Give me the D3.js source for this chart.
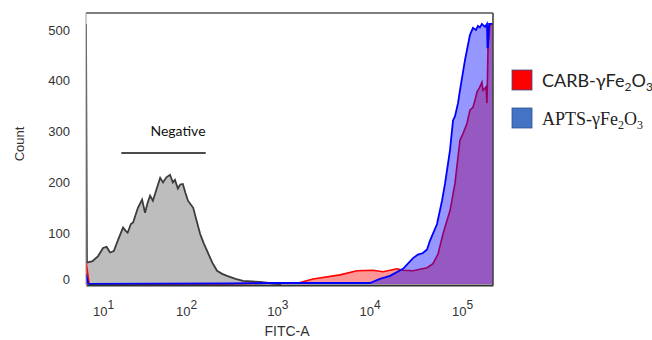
<!DOCTYPE html>
<html>
<head>
<meta charset="utf-8">
<script src="https://cdn.jsdelivr.net/npm/d3@7"></script>
<style>
  body { margin: 0; background: #fff; }
  svg { display: block; }
</style>
</head>
<body>
<div id="chart"></div>
<script>
///////////// data (FITC-A value, count) //////////////
var negative_data = [
  [5.5, 512], [5.7, 42], [7, 45], [8.5, 55], [10, 71], [11.2, 73], [12.5, 62], [14, 65],
  [16, 88], [18.4, 111], [20, 104], [21, 101], [23, 118], [24.5, 121], [28, 150], [31.4, 166],
  [33, 150], [34, 140], [36.5, 160], [39, 174], [42, 164], [46, 185], [51, 209], [55, 200],
  [60, 210], [66, 215], [71, 200], [75, 205], [81, 188], [86, 196], [92, 197], [98, 180],
  [105, 164], [120, 150], [132, 122], [143, 99], [157, 80], [171, 65], [195, 42], [220, 26],
  [250, 20], [283, 16], [350, 10], [423, 6], [648, 4], [900, 1], [1100, 0]
];
var carb_data = [
  [5.5, 45], [6.2, 0], [250, 0], [1068, 2], [1760, 3], [2436, 10], [4770, 18], [7300, 26],
  [10860, 27], [13930, 24], [19770, 30], [22970, 27], [29450, 26], [41790, 32], [48450, 40],
  [54960, 59], [62250, 99], [68730, 125], [74000, 144], [83790, 198], [94900, 283],
  [102360, 296], [113000, 316], [121650, 342], [131250, 348], [138090, 362], [145200, 378],
  [156000, 388], [164100, 397], [168300, 381], [181590, 388], [186240, 356], [191040, 466],
  [200400, 512], [216300, 512]
];
var apts_data = [
  [5.5, 20], [6, 0], [283, 1], [1068, 2], [10070, 2], [12900, 10], [16600, 16], [22970, 30],
  [29450, 51], [33360, 58], [37770, 61], [41790, 68], [44900, 85], [53590, 118], [60690, 164],
  [65340, 197], [74000, 263], [79830, 322], [83790, 330], [90390, 356], [94900, 381],
  [107670, 441], [121650, 490], [131250, 504], [141630, 500], [148650, 508], [156000, 505],
  [164100, 512], [177000, 506], [186240, 512], [188500, 466], [190500, 466], [195930, 512],
  [216300, 512]
];
var x_ticks = [10, 100, 1000, 10000, 100000];
var y_ticks = [0, 100, 200, 300, 400, 500];
var legend_labels = ['CARB-', 'APTS-'];

///////////// layout //////////////
const width = 652, height = 340;
const plot_left = 86, plot_right = 493, plot_top = 13, plot_bottom = 285;

var svg = d3.select('#chart').append('svg')
  .attr('width', width)
  .attr('height', height);

var x_scale = d3.scaleSymlog().constant(3)
  .domain([5.5, 216300])
  .range([plot_left, plot_right]);
var y_scale = d3.scaleLinear()
  .domain([0, 500])
  .range([284, 30]);

svg.append('clipPath').attr('id', 'plot_clip')
  .append('rect')
  .attr('x', plot_left).attr('y', plot_top)
  .attr('width', plot_right - plot_left).attr('height', plot_bottom - plot_top);

var area = d3.area()
  .x(d => x_scale(d[0]))
  .y0(y_scale(0))
  .y1(d => y_scale(d[1]));
var line = d3.line()
  .x(d => x_scale(d[0]))
  .y(d => y_scale(d[1]));

var plot = svg.append('g').attr('clip-path', 'url(#plot_clip)');

// negative control (grey)
plot.append('path').datum(negative_data)
  .attr('d', area)
  .attr('fill', '#bdbdbd');
plot.append('path').datum(negative_data)
  .attr('d', line)
  .attr('fill', 'none')
  .attr('stroke', '#3c3c3c')
  .attr('stroke-width', 1.8);

// CARB (red)
plot.append('path').datum(carb_data)
  .attr('d', area)
  .attr('fill', 'rgba(255,0,0,0.41)');
plot.append('path').datum(carb_data)
  .attr('d', line)
  .attr('fill', 'none')
  .attr('stroke', '#ff0000')
  .attr('stroke-width', 1.6);

// APTS (blue), drawn over red so overlap turns purple
plot.append('path').datum(apts_data)
  .attr('d', area)
  .attr('fill', 'rgba(0,0,255,0.41)');
plot.append('path').datum(apts_data)
  .attr('d', line)
  .attr('fill', 'none')
  .attr('stroke', '#0000ff')
  .attr('stroke-width', 1.8);

// frame
svg.append('line')
  .attr('x1', plot_left).attr('x2', plot_right).attr('y1', plot_top).attr('y2', plot_top)
  .attr('stroke', '#555').attr('stroke-width', 1.6);
svg.append('line')
  .attr('x1', plot_right).attr('x2', plot_right).attr('y1', plot_top).attr('y2', plot_bottom)
  .attr('stroke', '#444').attr('stroke-width', 1.6);
svg.append('line')
  .attr('x1', plot_left).attr('x2', plot_left).attr('y1', plot_top).attr('y2', plot_bottom)
  .attr('stroke', '#999').attr('stroke-width', 1);

// y axis
var y_axis = svg.append('g')
  .attr('transform', `translate(${plot_left},0)`)
  .call(d3.axisLeft(y_scale).tickValues(y_ticks).tickSize(0).tickPadding(16));
y_axis.select('.domain').remove();
y_axis.selectAll('text')
  .attr('font-family', 'Liberation Sans, Arial, sans-serif')
  .attr('font-size', 13)
  .attr('fill', '#333')
  .attr('dy', d => d === 0 ? '-0.05em' : '0.32em');

// x axis
var x_axis = svg.append('g')
  .attr('transform', `translate(0,${plot_bottom})`)
  .call(d3.axisBottom(x_scale).tickValues(x_ticks).tickSize(0).tickPadding(22).tickFormat(''));
x_axis.select('.domain')
  .attr('stroke', '#333').attr('stroke-width', 2);
x_axis.selectAll('.tick text')
  .attr('font-family', 'Liberation Sans, Arial, sans-serif')
  .attr('font-size', 13)
  .attr('fill', '#333')
  .each(function(d){
    var t = d3.select(this);
    t.append('tspan').text('10');
    t.append('tspan').attr('font-size', 12).attr('dy', '-0.6em').text(Math.round(Math.log10(d)));
  });

// axis titles
svg.append('text')
  .attr('transform', 'translate(24,144) rotate(-90)')
  .attr('text-anchor', 'middle')
  .attr('font-family', 'Liberation Sans, Arial, sans-serif')
  .attr('font-size', 13)
  .attr('fill', '#333')
  .text('Count');
svg.append('text')
  .attr('x', 287).attr('y', 336)
  .attr('text-anchor', 'middle')
  .attr('font-family', 'Liberation Sans, Arial, sans-serif')
  .attr('font-size', 14)
  .attr('fill', '#333')
  .text('FITC-A');

// negative gate marker
svg.append('line')
  .attr('x1', x_scale(17.5)).attr('x2', x_scale(165))
  .attr('y1', 153).attr('y2', 153)
  .attr('stroke', '#111').attr('stroke-width', 1.5);
svg.append('text')
  .attr('x', 178).attr('y', 136)
  .attr('text-anchor', 'middle')
  .attr('font-family', 'Lato, sans-serif')
  .attr('font-size', 14)
  .attr('fill', '#111')
  .text('Negative');

// legend
var legend_colors = ['#ff0000', '#4472c4'];
var legend_fonts = ['Lato, sans-serif', 'Liberation Serif, Times New Roman, serif'];
var legend = svg.append('g');
legend_labels.forEach(function(name, i){
  var yy = 70 + i * 38;
  legend.append('rect')
    .attr('x', 512).attr('y', yy)
    .attr('width', 20).attr('height', 20)
    .attr('fill', legend_colors[i])
    .attr('stroke', '#2f528f').attr('stroke-width', 0.8);
  var t = legend.append('text')
    .attr('x', 542).attr('y', yy + 17)
    .attr('font-family', legend_fonts[i])
    .attr('font-size', 18)
    .attr('fill', '#222');
  t.append('tspan').text(name + '\u03b3Fe');
  t.append('tspan').attr('font-size', 12).attr('dy', 4).text('2');
  t.append('tspan').attr('dy', -4).text('O');
  t.append('tspan').attr('font-size', 12).attr('dy', 4).text('3');
});
</script>
</body>
</html>
